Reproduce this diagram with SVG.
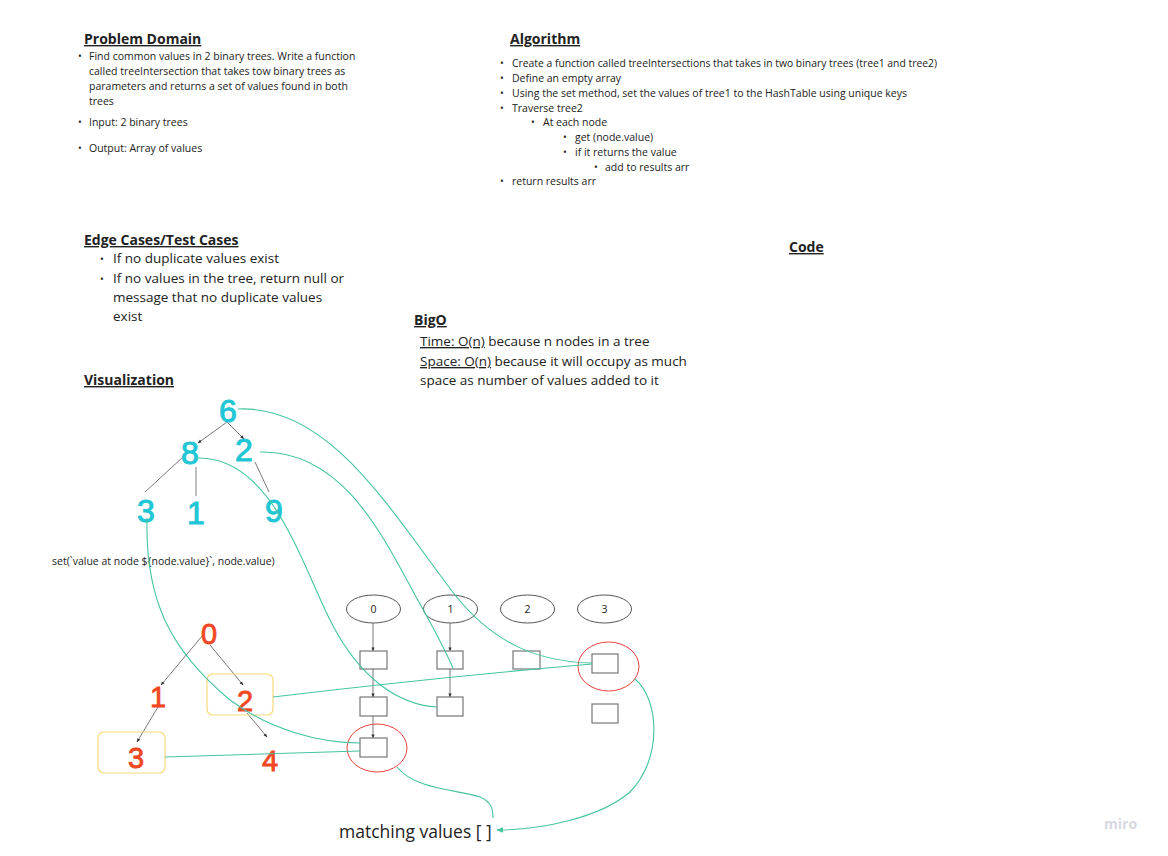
<svg xmlns="http://www.w3.org/2000/svg" width="1168" height="856" viewBox="0 0 1168 856">
<style>
text{font-family:"Open Sans","Liberation Sans",sans-serif;fill:#222}
.h{font-weight:bold;font-size:14px;text-decoration:underline}
.s{font-size:10.5px}
.m{font-size:13.5px}
.u{text-decoration:underline}
.dot{font-size:10px}
.cy{fill:#1fc6d6;stroke:#1fc6d6;stroke-width:1px;font-size:32px;text-anchor:middle;font-family:"Liberation Sans",sans-serif}
.rd{fill:#f1461f;stroke:#f1461f;stroke-width:0.8px;font-size:29px;text-anchor:middle;font-family:"Liberation Sans",sans-serif}
.tl{stroke:#555;stroke-width:0.8;fill:none}
.g{stroke:#45c4a2;stroke-width:1.1;fill:none}
.box{fill:#fff;stroke:#777;stroke-width:1.2}
.ell{fill:#fff;stroke:#555;stroke-width:1}
.rc{fill:none;stroke:#e8413b;stroke-width:1}
.yb{fill:none;stroke:#f8d97a;stroke-width:1.2}
.k{font-size:10.5px;text-anchor:middle}
</style>
<defs>
<marker id="a" viewBox="0 0 10 10" refX="9" refY="5" markerWidth="5" markerHeight="5" orient="auto"><path d="M0,1 L10,5 L0,9 z" fill="#333"/></marker>
<marker id="ag" viewBox="0 0 10 10" refX="9" refY="5" markerWidth="6" markerHeight="6" orient="auto"><path d="M0,1 L10,5 L0,9 z" fill="#45c4a2"/></marker>
</defs>
<rect width="1168" height="856" fill="#fff"/>

<g id="problem-domain">
<text class="h" x="84" y="44">Problem Domain</text>
<text class="dot" x="78" y="60">•</text>
<text class="s" x="89" y="60">Find common values in 2 binary trees. Write a function</text>
<text class="s" x="89" y="75">called treeIntersection that takes tow binary trees as</text>
<text class="s" x="89" y="90">parameters and returns a set of values found in both</text>
<text class="s" x="89" y="105">trees</text>
<text class="dot" x="78" y="126">•</text>
<text class="s" x="89" y="126">Input: 2 binary trees</text>
<text class="dot" x="78" y="152">•</text>
<text class="s" x="89" y="152">Output: Array of values</text>
</g>

<g id="algorithm">
<text class="h" x="510" y="44">Algorithm</text>
<text class="dot" x="500" y="67">•</text>
<text class="s" x="512" y="67" textLength="425" lengthAdjust="spacingAndGlyphs">Create a function called treeIntersections that takes in two binary trees (tree1 and tree2)</text>
<text class="dot" x="500" y="82">•</text>
<text class="s" x="512" y="82">Define an empty array</text>
<text class="dot" x="500" y="97">•</text>
<text class="s" x="512" y="97">Using the set method, set the values of tree1 to the HashTable using unique keys</text>
<text class="dot" x="500" y="112">•</text>
<text class="s" x="512" y="112">Traverse tree2</text>
<text class="dot" x="531" y="126">•</text>
<text class="s" x="543" y="126">At each node</text>
<text class="dot" x="563" y="141">•</text>
<text class="s" x="575" y="141">get (node.value)</text>
<text class="dot" x="563" y="156">•</text>
<text class="s" x="575" y="156">if it returns the value</text>
<text class="dot" x="594" y="171">•</text>
<text class="s" x="605" y="171">add to results arr</text>
<text class="dot" x="500" y="185">•</text>
<text class="s" x="512" y="185">return results arr</text>
</g>

<g id="edge-cases">
<text class="h" x="84" y="245">Edge Cases/Test Cases</text>
<text class="dot" x="100" y="263">•</text>
<text class="m" x="113" y="263">If no duplicate values exist</text>
<text class="dot" x="100" y="283">•</text>
<text class="m" x="113" y="283">If no values in the tree, return null or</text>
<text class="m" x="113" y="302">message that no duplicate values</text>
<text class="m" x="113" y="321">exist</text>
</g>

<g id="code"><text class="h" x="789" y="252">Code</text></g>

<g id="bigo">
<text class="h" x="414" y="325">BigO</text>
<text class="m" x="420" y="346"><tspan class="u">Time: O(n)</tspan> because n nodes in a tree</text>
<text class="m" x="420" y="366"><tspan class="u">Space: O(n)</tspan> because it will occupy as much</text>
<text class="m" x="420" y="385">space as number of values added to it</text>
</g>

<g id="visualization"><text class="h" x="84" y="385">Visualization</text></g>

<g id="set-label"><text class="s" x="52" y="565">set(`value at node ${node.value}`, node.value)</text></g>

<g id="tree1-edges">
<line class="tl" x1="227" y1="422" x2="198" y2="443" marker-end="url(#a)"/>
<line class="tl" x1="227" y1="422" x2="244" y2="439" marker-end="url(#a)"/>
<line class="tl" x1="183" y1="457" x2="145" y2="492"/>
<line x1="196" y1="467" x2="196" y2="496" stroke="#aaa" stroke-width="1.5"/>
<line class="tl" x1="255" y1="462" x2="269" y2="492"/>
</g>
<g id="tree1-nodes">
<text class="cy" x="228" y="422">6</text>
<text class="cy" x="190" y="464">8</text>
<text class="cy" x="244" y="461">2</text>
<text class="cy" x="146" y="522">3</text>
<text class="cy" x="196" y="524">1</text>
<text class="cy" x="274" y="522">9</text>
</g>

<g id="tree2-edges">
<line class="tl" x1="203" y1="635" x2="161" y2="685" marker-end="url(#a)"/>
<line class="tl" x1="210" y1="645" x2="243" y2="685" marker-end="url(#a)"/>
<line class="tl" x1="158" y1="707" x2="137" y2="742" marker-end="url(#a)"/>
<line class="tl" x1="247" y1="713" x2="267" y2="737" marker-end="url(#a)"/>
</g>
<g id="tree2-nodes">
<text class="rd" x="209" y="644">0</text>
<text class="rd" x="158" y="707">1</text>
<rect class="yb" x="207" y="674" width="66" height="41" rx="6"/>
<text class="rd" x="245" y="711">2</text>
<rect class="yb" x="98" y="732" width="67" height="41" rx="6"/>
<text class="rd" x="136" y="768">3</text>
<text class="rd" x="270" y="771">4</text>
</g>

<g id="hashtable">
<g id="slot0">
<ellipse class="ell" cx="373.5" cy="609" rx="27" ry="14"/>
<text class="k" x="373.5" y="613">0</text>
<line class="tl" x1="373" y1="623" x2="373" y2="651" marker-end="url(#a)"/>
<rect class="box" x="360" y="651" width="27" height="18"/>
<line class="tl" x1="373" y1="669" x2="373" y2="697" marker-end="url(#a)"/>
<rect class="box" x="360" y="697" width="27" height="19"/>
<line class="tl" x1="373" y1="716" x2="373" y2="738" marker-end="url(#a)"/>
<rect class="box" x="360" y="738" width="27" height="19"/>
<ellipse class="rc" cx="377" cy="748" rx="30" ry="24"/>
</g>
<g id="slot1">
<ellipse class="ell" cx="450.5" cy="609" rx="27" ry="14"/>
<text class="k" x="450.5" y="613">1</text>
<line class="tl" x1="450" y1="623" x2="450" y2="651" marker-end="url(#a)"/>
<rect class="box" x="437" y="651" width="26" height="18"/>
<line class="tl" x1="450" y1="669" x2="450" y2="697" marker-end="url(#a)"/>
<rect class="box" x="437" y="697" width="26" height="19"/>
</g>
<g id="slot2">
<ellipse class="ell" cx="527.5" cy="609" rx="27" ry="14"/>
<text class="k" x="527.5" y="613">2</text>
<rect class="box" x="513" y="651" width="27" height="18"/>
</g>
<g id="slot3">
<ellipse class="ell" cx="604.5" cy="609" rx="27" ry="14"/>
<text class="k" x="604.5" y="613">3</text>
<rect class="box" x="592" y="654" width="26" height="19"/>
<ellipse class="rc" cx="608.5" cy="666.5" rx="30.5" ry="24.5"/>
<rect class="box" x="592" y="704" width="26" height="19"/>
</g>
</g>

<g id="connectors">
<path class="g" d="M238,409 C330,405 390,510 455,595 C495,645 540,662 592,663"/>
<path class="g" d="M260,452 C340,450 380,530 415,595 C432,625 445,650 453,668"/>
<path class="g" d="M196,458 C270,455 300,560 330,620 C360,680 400,705 437,707"/>
<path class="g" d="M147,518 C145,600 170,650 230,700 C270,730 320,743 360,743"/>
<path class="g" d="M273,697 Q430,678 592,664"/>
<path class="g" d="M165,757 L360,751"/>
<path class="g" d="M397,767 C415,790 460,790 480,797 C492,802 493,810 493,818"/>
<path class="g" d="M635,679 C660,700 662,760 630,792 C600,818 540,830 497,830" marker-end="url(#ag)"/>
</g>

<g id="matching"><text x="339" y="838" font-size="17.5">matching values [ ]</text></g>
<g id="logo"><text x="1104" y="829" font-size="14" font-weight="bold" style="fill:#d8d8e0">miro</text></g>
</svg>
